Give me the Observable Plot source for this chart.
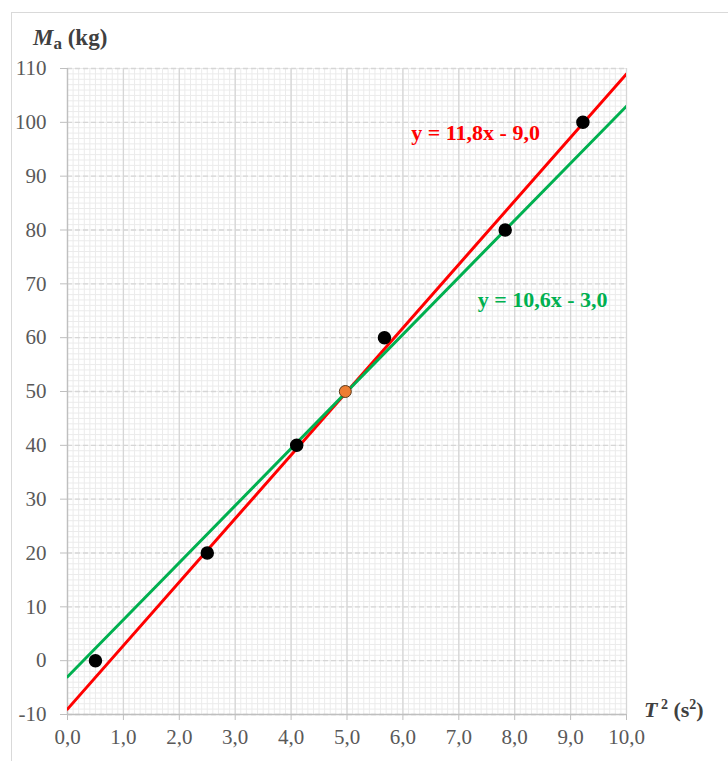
<!DOCTYPE html>
<html>
<head>
<meta charset="utf-8">
<script src="https://cdn.jsdelivr.net/npm/d3@7"></script>
<script src="https://cdn.jsdelivr.net/npm/@observablehq/plot@0.6"></script>
<style>
  html, body { margin: 0; padding: 0; background: #fff; overflow: hidden; }
  #wrap { position: relative; width: 728px; height: 761px; }
  #border { position: absolute; left: 11px; top: 12px; width: 800px; height: 800px; border: 1.5px solid #d9d9d9; box-sizing: border-box; pointer-events: none; }
  .lab { position: absolute; font-family: "Liberation Serif", serif; font-weight: bold; color: #404040; white-space: nowrap; }
</style>
</head>
<body>
<div id="wrap">
  <div id="border"></div>
  <div id="chart"></div>
  <div class="lab" style="left:33px; top:25px; font-size:23px;"><i>M</i><sub style="font-size:17px;vertical-align:-4px;">a</sub> (kg)</div>
  <div class="lab" style="left:644px; top:697px; font-size:22px;"><i>T</i><sup style="font-size:14px;vertical-align:8px;"> 2</sup> (s<sup style="font-size:14px;vertical-align:8px;">2</sup>)</div>
</div>
<script>
// Measured points: T^2 (s^2) and Ma (kg)
const t2 = [0.5, 2.5, 4.1, 5.67, 7.83, 9.22];
const ma = [0, 20, 40, 60, 80, 100];
// Highlighted mean point
const meanT2 = [4.97];
const meanMa = [50];
// Fitted lines: slope, intercept, label, colour
const fitNames = ["red", "green"];
const fitSlopes = [11.8, 10.6];
const fitIntercepts = [-9.0, -3.0];
const fitLabels = ["y = 11,8x - 9,0", "y = 10,6x - 3,0"];
const fitColors = ["#ff0000", "#00b050"];
const fitLabelX = [7.3, 8.5];
const fitLabelY = [98, 67];
// Axis ticks
const xTicks = [0, 1, 2, 3, 4, 5, 6, 7, 8, 9, 10];
const yTicks = [-10, 0, 10, 20, 30, 40, 50, 60, 70, 80, 90, 100, 110];
const xDomain = [0, 10];
const yDomain = [-10, 110];

const points = t2.map((x, i) => ({x, y: ma[i]}));
const mean = meanT2.map((x, i) => ({x, y: meanMa[i]}));
const lines = [];
fitNames.forEach((n, i) => {
  xDomain.forEach(x => lines.push({name: n, x, y: fitSlopes[i] * x + fitIntercepts[i], color: fitColors[i]}));
});
const labels = fitNames.map((n, i) => ({x: fitLabelX[i], y: fitLabelY[i], text: fitLabels[i], color: fitColors[i]}));

const minorX = d3.range(0, 100.5, 1).map(v => v / 10);
const minorY = d3.range(-10, 110.5, 1);
const fmtX = d => d.toFixed(1).replace(".", ",");
const fmtY = d => String(d);

const chart = Plot.plot({
  width: 728,
  height: 761,
  marginLeft: 67,
  marginRight: 102,
  marginTop: 68,
  marginBottom: 47,
  style: {fontFamily: "Liberation Serif, serif", fontSize: "21px", color: "#595959", background: "transparent"},
  x: {domain: xDomain, ticks: xTicks, tickFormat: fmtX, label: null},
  y: {domain: yDomain, ticks: yTicks, tickFormat: fmtY, label: null},
  marks: [
    Plot.ruleX(minorX, {stroke: "#ebebeb", strokeWidth: 1, strokeOpacity: 1}),
    Plot.ruleY(minorY, {stroke: "#ebebeb", strokeWidth: 1, strokeOpacity: 1}),
    Plot.ruleX(xTicks, {stroke: "#d6d6d6", strokeWidth: 1.3}),
    Plot.ruleY(yTicks, {stroke: "#d6d6d6", strokeWidth: 1.3, strokeDasharray: "5,3"}),
    Plot.ruleX([0], {stroke: "#bfbfbf", strokeWidth: 1.3}),
    Plot.ruleY([-10], {stroke: "#bfbfbf", strokeWidth: 1.3}),
    Plot.axisX({ticks: xTicks, tickFormat: fmtX, tickSize: 6, tickPadding: 9, stroke: "#bfbfbf", fill: "#595959", label: null}),
    Plot.axisY({ticks: yTicks, tickFormat: fmtY, tickSize: 7, tickPadding: 14, stroke: "#bfbfbf", fill: "#595959", label: null}),
    Plot.line(lines, {x: "x", y: "y", z: "name", stroke: "color", strokeWidth: 3, clip: true}),
    Plot.dot(points, {x: "x", y: "y", r: 6, fill: "black", stroke: "black"}),
    Plot.dot(mean, {x: "x", y: "y", r: 6, fill: "#ed7d31", stroke: "#5a3a1a", strokeWidth: 1}),
    Plot.text(labels, {x: "x", y: "y", text: "text", fill: "color", fontWeight: "bold", fontSize: 22})
  ]
});
document.getElementById("chart").appendChild(chart);
</script>
</body>
</html>
